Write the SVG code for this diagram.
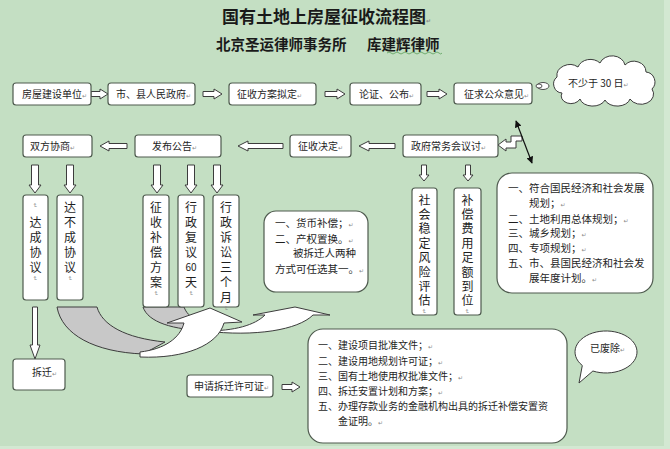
<svg xmlns="http://www.w3.org/2000/svg" width="670" height="449" viewBox="0 0 670 449">
<defs>
<style>
.t{font-family:"Noto Sans CJK SC","Noto Sans",sans-serif;font-size:10px;fill:#1e1e1e}
.vt{font-family:"Noto Sans CJK SC","Noto Sans",sans-serif;font-size:12px;fill:#1e1e1e;writing-mode:vertical-rl;letter-spacing:3px}
.vt2{font-family:"Noto Sans CJK SC","Noto Sans",sans-serif;font-size:12px;fill:#1e1e1e;writing-mode:vertical-rl;letter-spacing:2.4px}
.m{font-family:"DejaVu Sans",sans-serif;font-size:6px;fill:#8a8a8a;letter-spacing:0}
.box{fill:#ffffff;stroke:#4e5a4e;stroke-width:1.2}
.arr{fill:#ffffff;stroke:#3c3c3c;stroke-width:1}
.gray{fill:#c8c8c8;stroke:#3c3c3c;stroke-width:1}
</style>
<marker id="ah" viewBox="0 0 10 10" refX="9" refY="5" markerWidth="7" markerHeight="7" orient="auto-start-reverse" markerUnits="userSpaceOnUse">
<path d="M0,0 L10,5 L0,10 Z" fill="#111"/>
</marker>
</defs>
<rect width="670" height="449" fill="#c4dfc3"/>
<rect x="664" y="0" width="6" height="449" fill="#d3e8d2"/>
<rect x="0" y="446" width="670" height="3" fill="#d3e8d2"/>

<g id="title">
<text x="222" y="23" style="font-family:'Noto Sans CJK SC',sans-serif;font-size:17px;font-weight:bold;fill:#1a1a1a">国有土地上房屋征收流程图<tspan class="m">↵</tspan></text>
<text x="216" y="50" style="font-family:'Noto Sans CJK SC',sans-serif;font-size:14.5px;font-weight:bold;fill:#1a1a1a">北京圣运律师事务所<tspan x="367">库建辉律师</tspan></text>
<path d="M387,53 q2,-2 4,0 t4,0 t4,0 t4,0 t4,0 t4,0 t4,0 t4,0 t4,0 t4,0 t4,0 t4,0 t4,0 t3,0" fill="none" stroke="#5aa05a" stroke-width="0.8"/>
</g>

<g id="connectors">
<path class="arr" d="M91,91.5 L100,91.5 L100,89 L108,94 L100,99 L100,96.5 L91,96.5 Z"/>
<path class="arr" d="M203,91.5 L214,91.5 L214,89 L222,94 L214,99 L214,96.5 L203,96.5 Z"/>
<path class="arr" d="M325,91.5 L337,91.5 L337,89 L345,94 L337,99 L337,96.5 L325,96.5 Z"/>
<path class="arr" d="M427,91.5 L439,91.5 L439,89 L447,94 L439,99 L439,96.5 L427,96.5 Z"/>
<path class="arr" d="M100,146 L109,141 L109,143.5 L127,143.5 L127,148.5 L109,148.5 L109,151 Z"/>
<path class="arr" d="M238,146 L248,141 L248,143.5 L283,143.5 L283,148.5 L248,148.5 L248,151 Z"/>
<path class="arr" d="M359,146 L369,141 L369,143.5 L395,143.5 L395,148.5 L369,148.5 L369,151 Z"/>
<path class="arr" d="M498,145 L506,139 L506,142 L511,142 L511,136 L522,136 L522,141 L516,141 L516,148 L506,148 L506,151 Z"/>
<line x1="516" y1="121" x2="532" y2="163" stroke="#111" stroke-width="1.2" marker-start="url(#ah)" marker-end="url(#ah)"/>
<path class="arr" d="M31.5,165 L38.5,165 L38.5,185 L41,185 L35,193 L29,185 L31.5,185 Z"/>
<path class="arr" d="M66.5,165 L73.5,165 L73.5,185 L76,185 L70,193 L64,185 L66.5,185 Z"/>
<path class="arr" d="M153.5,165 L160.5,165 L160.5,185 L163,185 L157,193 L151,185 L153.5,185 Z"/>
<path class="arr" d="M187.5,165 L194.5,165 L194.5,185 L197,185 L191,193 L185,185 L187.5,185 Z"/>
<path class="arr" d="M213.5,165 L220.5,165 L220.5,185 L223,185 L217,193 L211,185 L213.5,185 Z"/>
<path class="arr" d="M421.5,165 L426.5,165 L426.5,175 L429,175 L424,181 L419,175 L421.5,175 Z"/>
<path class="arr" d="M465.5,165 L470.5,165 L470.5,175 L473,175 L468,181 L463,175 L465.5,175 Z"/>
<path class="arr" d="M32.5,307 L37.5,307 L37.5,345 L40,345 L35,359 L30,345 L32.5,345 Z"/>
<path class="arr" d="M282,384.5 L292,384.5 L292,382 L300,387 L292,392 L292,389.5 L282,389.5 Z"/>
<path class="gray" d="M143,307 L184,307 C188,318 200,324 220,327 L210,331 C172,330 148,322 143,307 Z"/>
<path class="arr" d="M205,331 C235,331 255,325 265,315 L253,315 L295,307 L330,315 L313,315 C298,330 255,337 205,331 Z"/>
<path class="gray" d="M57,307 L97,307 C102,325 125,338 165,342 L143,354 C95,352 62,335 57,307 Z"/>
<path class="arr" d="M140,352 C165,349 180,338 184,323 L167,323 L210,308 L242,322 L224,323 C218,345 185,359 140,357 Z"/>
</g>

<g id="n1"><rect class="box" x="13" y="83" width="78" height="22" rx="3"/><text class="t" x="22" y="98">房屋建设单位<tspan class="m">↵</tspan></text></g>
<g id="n2"><rect class="box" x="108" y="83" width="87" height="22" rx="3"/><text class="t" x="116" y="98">市、县人民政府<tspan class="m">↵</tspan></text></g>
<g id="n3"><rect class="box" x="229" y="83" width="87" height="22" rx="3"/><text class="t" x="237" y="98">征收方案拟定<tspan class="m">↵</tspan></text></g>
<g id="n4"><rect class="box" x="350" y="83" width="71" height="22" rx="3"/><text class="t" x="359" y="98">论证、公布<tspan class="m">↵</tspan></text></g>
<g id="n5"><rect class="box" x="454" y="83" width="78" height="21" rx="3"/><text class="t" x="464" y="98">征求公众意见<tspan class="m">↵</tspan></text></g>

<g id="cloud">
<ellipse cx="543" cy="86" rx="6" ry="3.5" fill="#fff" stroke="#3c3c3c" stroke-width="0.9"/>
<ellipse cx="539" cy="86" rx="3" ry="2" fill="#fff" stroke="#3c3c3c" stroke-width="0.9"/>
<path d="M562,93 A9,9 0 0,1 557,77 A13,11 0 0,1 578,67 A13,11 0 0,1 600,63 A13,11 0 0,1 625,65 A12,11 0 0,1 646,72 A10,10 0 0,1 652,89 A11,9 0 0,1 630,99 A13,9 0 0,1 605,100 A13,9 0 0,1 580,99 A9,7 0 0,1 562,93 Z" fill="#fff" stroke="#3c3c3c" stroke-width="1"/>
<text class="t" x="568" y="87">不少于 30 日<tspan class="m">↵</tspan></text>
</g>

<g id="n6"><rect class="box" x="23" y="135" width="69" height="22" rx="3"/><text class="t" x="30" y="150">双方协商<tspan class="m">↵</tspan></text></g>
<g id="n7"><rect class="box" x="135" y="135" width="86" height="22" rx="3"/><text class="t" x="152" y="150">发布公告<tspan class="m">↵</tspan></text></g>
<g id="n8"><rect class="box" x="290" y="135" width="61" height="22" rx="3"/><text class="t" x="298" y="150">征收决定<tspan class="m">↵</tspan></text></g>
<g id="n9"><rect class="box" x="403" y="135" width="95" height="22" rx="3"/><text class="t" x="411" y="150">政府常务会议讨<tspan class="m">↵</tspan></text></g>

<g id="v1"><rect class="box" x="23" y="195" width="25" height="105" rx="3"/>
<text class="vt" x="35.5" y="203"><tspan class="m">↵</tspan><tspan y="216">达成协议</tspan><tspan class="m">↵</tspan></text></g>
<g id="v2"><rect class="box" x="57" y="195" width="26" height="105" rx="3"/>
<text class="vt" x="70" y="201">达不成协议<tspan class="m">↵</tspan></text></g>
<g id="v3"><rect class="box" x="143" y="195" width="26" height="112" rx="3"/>
<text class="vt" x="156" y="201">征收补偿方案<tspan class="m">↵</tspan></text></g>
<g id="v4"><rect class="box" x="178" y="195" width="26" height="112" rx="3"/>
<text class="vt" x="191" y="201">行政复议</text>
<text x="191" y="271" style="font-family:'Noto Sans CJK SC',sans-serif;font-size:10px;fill:#1e1e1e;text-anchor:middle">60</text>
<text class="vt" x="191" y="276">天<tspan class="m">↵</tspan></text></g>
<g id="v5"><rect class="box" x="213" y="195" width="26" height="112" rx="3"/>
<text class="vt" x="226" y="201">行政诉讼三个月<tspan class="m">↵</tspan></text></g>

<g id="b1"><rect class="box" x="264" y="211" width="104" height="81" rx="12"/>
<text class="t" style="font-size:10.5px"><tspan x="275" y="227">一、货币补偿；</tspan><tspan class="m">↵</tspan><tspan x="275" y="243">二、产权置换。</tspan><tspan class="m">↵</tspan><tspan x="293" y="257">被拆迁人两种</tspan><tspan x="275" y="273">方式可任选其一。</tspan><tspan class="m">↵</tspan></text></g>

<g id="v6"><rect class="box" x="412" y="188" width="25" height="127" rx="3"/>
<text class="vt2" x="424.5" y="194">社会稳定风险评估<tspan class="m">↵</tspan></text></g>
<g id="v7"><rect class="box" x="454" y="188" width="27" height="127" rx="3"/>
<text class="vt2" x="467.5" y="194">补偿费用足额到位<tspan class="m">↵</tspan></text></g>

<g id="b2"><rect class="box" x="497" y="173" width="156" height="120" rx="15"/>
<text class="t" style="font-size:10.5px"><tspan x="508" y="192">一、符合国民经济和社会发展</tspan><tspan x="529" y="207">规划；</tspan><tspan class="m">↵</tspan><tspan x="508" y="223">二、土地利用总体规划；</tspan><tspan class="m">↵</tspan><tspan x="508" y="237">三、城乡规划；</tspan><tspan class="m">↵</tspan><tspan x="508" y="252">四、专项规划；</tspan><tspan class="m">↵</tspan><tspan x="508" y="267">五、市、县国民经济和社会发</tspan><tspan x="529" y="282">展年度计划。</tspan><tspan class="m">↵</tspan></text></g>

<g id="n10"><rect class="box" x="13" y="359" width="52" height="31" rx="3"/><text class="t" x="32" y="376">拆迁<tspan class="m">↵</tspan></text></g>
<g id="n11"><rect class="box" x="187" y="375" width="86" height="22" rx="3"/><text class="t" x="194" y="390">申请拆迁许可证<tspan class="m">↵</tspan></text></g>

<g id="b3"><rect class="box" x="308" y="329" width="259" height="114" rx="15"/>
<text class="t"><tspan x="318" y="349">一、建设项目批准文件；</tspan><tspan class="m">↵</tspan><tspan x="318" y="365">二、建设用地规划许可证；</tspan><tspan class="m">↵</tspan><tspan x="318" y="380">三、国有土地使用权批准文件；</tspan><tspan class="m">↵</tspan><tspan x="318" y="395">四、拆迁安置计划和方案；</tspan><tspan class="m">↵</tspan><tspan x="318" y="410">五、办理存款业务的金融机构出具的拆迁补偿安置资</tspan><tspan x="338" y="425">金证明。</tspan><tspan class="m">↵</tspan></text></g>

<g id="bubble">
<path d="M592.9,371 L579,383 L582.3,365.5 A31,21 0 1,1 592.9,371 Z" fill="#fff" stroke="#3c3c3c" stroke-width="1"/>
<text class="t" x="590" y="352">已废除<tspan class="m">↵</tspan></text>
</g>
</svg>
